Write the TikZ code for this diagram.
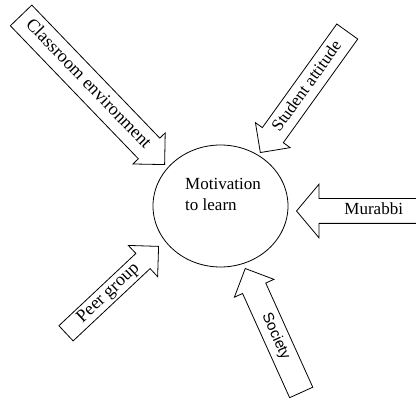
\documentclass[tikz,border=0pt]{standalone}
\usepackage{fontspec}
\setmainfont{Liberation Serif}
\newfontfamily\societyfont{Liberation Sans}
\usetikzlibrary{shapes.geometric,shapes.arrows}

\begin{document}
\begin{tikzpicture}[x=1pt, y=1pt, line width=0.8pt,
    every node/.style={font=\fontsize{17}{21}\selectfont},
    factor/.style={single arrow, draw, anchor=tip, single arrow tip angle=90,
        text height=12pt, text depth=4pt, inner xsep=2pt}]

    % Size of the scanned figure
    \clip (0,0) rectangle (416,401);

    % The circle in the middle
    \node[ellipse, draw, minimum width=135pt, minimum height=122pt] (motiv) at (220.5,195) {};
    \node[align=left] (motivtext) at (223,206.5) {Motivation\\to learn};

    % The five factors, each one an arrow into the circle
    \node[factor, rotate=-46.1, inner ysep=6.5pt, single arrow head extend=7.5pt,
          minimum height=207pt, font=\fontsize{18}{21}\selectfont] (classroom) at (165,236) {Classroom environment};
    \node[factor, rotate=54.3, shape border rotate=180, inner ysep=4.5pt,
          single arrow head extend=8.5pt, minimum height=149pt] (student) at (260,248) {Student attitude};
    \node[factor, shape border rotate=180, inner ysep=4pt, single arrow head extend=14.5pt,
          single arrow tip angle=100, minimum height=144pt] (murabbi) at (296,190) {Murabbi};
    \node[factor, rotate=-65.7, shape border rotate=180, inner ysep=4.3pt,
          single arrow head extend=9pt, minimum height=136pt,
          font=\societyfont\fontsize{15}{18}\selectfont] (society) at (245,133) {Society};
    \node[factor, rotate=43.2, inner ysep=2pt, single arrow head extend=11pt,
          minimum height=127pt, font=\fontsize{18}{21}\selectfont] (peer) at (159,155) {Peer group};

\end{tikzpicture}
\end{document}
